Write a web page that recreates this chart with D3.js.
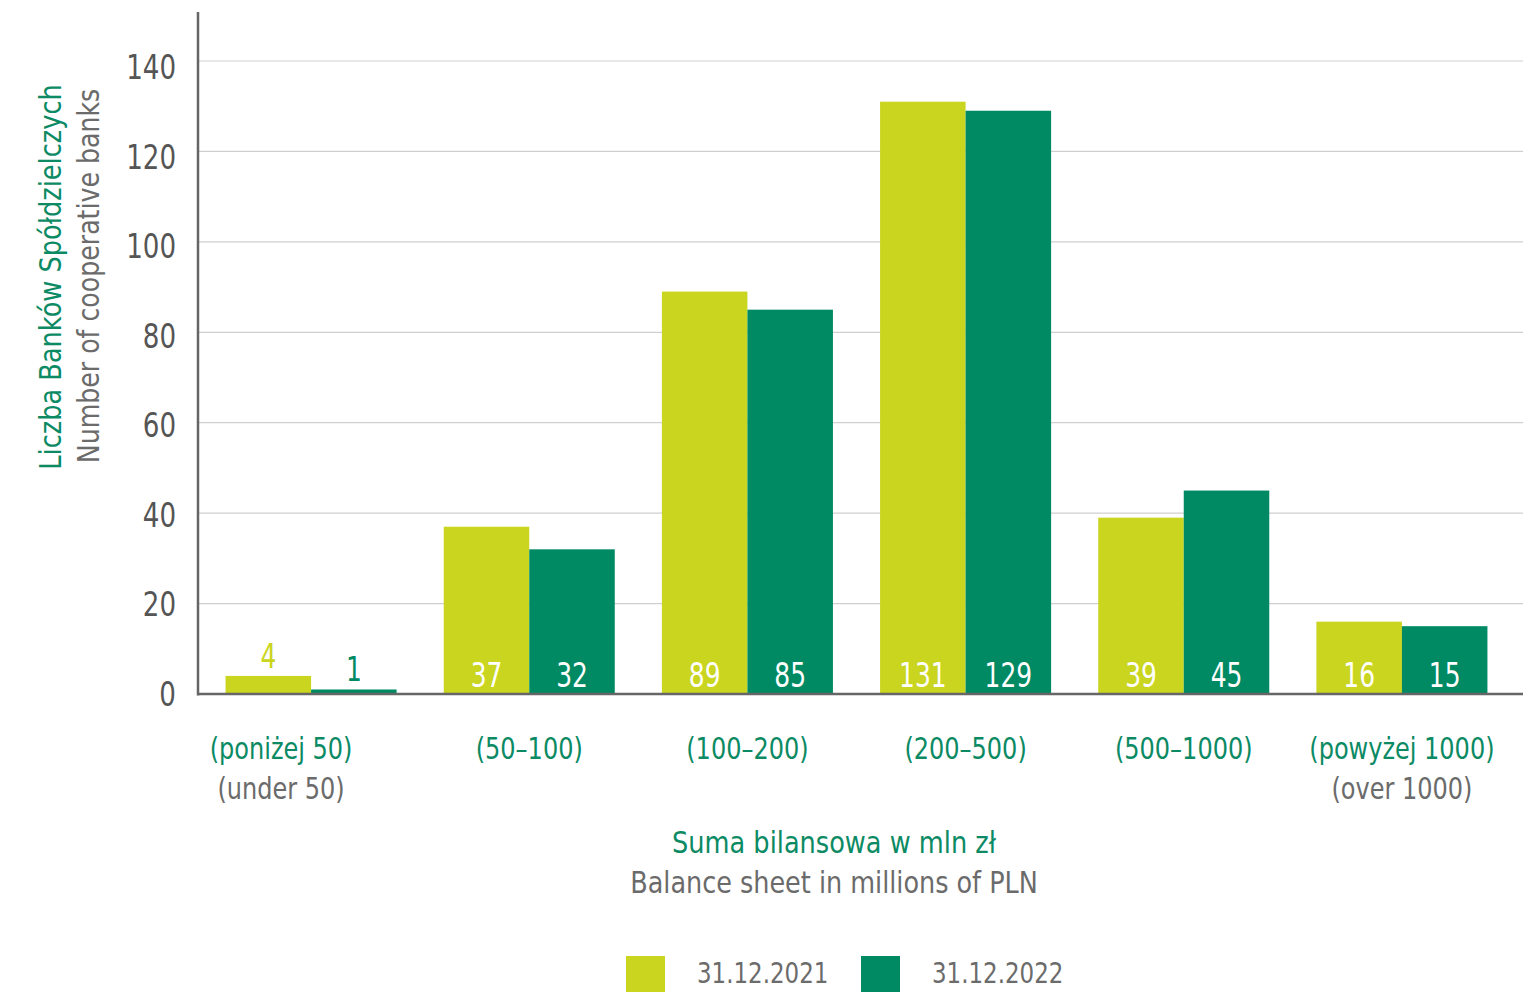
<!DOCTYPE html>
<html><head><meta charset="utf-8">
<script src="https://cdn.jsdelivr.net/npm/d3@7"></script>
<style>
html,body{margin:0;padding:0;background:#fff;}
svg{display:block;}
text{font-family:"DejaVu Sans Condensed","DejaVu Sans",sans-serif;}
</style></head>
<body>
<svg id="c" width="1540" height="992"></svg>
<script>
const categoriesPL = ["(poniżej 50)", "(50–100)", "(100–200)", "(200–500)", "(500–1000)", "(powyżej 1000)"];
const categoriesEN = ["(under 50)", "", "", "", "", "(over 1000)"];
const series = ["31.12.2021", "31.12.2022"];
const values2021 = [4, 37, 89, 131, 39, 16];
const values2022 = [1, 32, 85, 129, 45, 15];
const yTicks = [0, 20, 40, 60, 80, 100, 120, 140];

const colors = ["#cad520", "#008a64"];
const green = "#0b8a64", grey = "#6b6b6b";

const svg = d3.select("#c");
const x0 = 198, x1 = 1523, yZero = 694, yTop = 61;
const y = d3.scaleLinear().domain([0, 140]).range([yZero, yTop]);
const xb = d3.scaleBand().domain(categoriesPL.map((d, i) => i)).range([202, 1511]).paddingInner(0.216).paddingOuter(0.108);
const xs = d3.scaleBand().domain([0, 1]).range([0, xb.bandwidth()]);

// helper: horizontally condensed text
function txt(parent, x, yy, str, size, fill, anchor, sx, rot) {
  const tr = rot ? `translate(${x},${yy}) rotate(${rot}) scale(${sx},1)` : `translate(${x},${yy}) scale(${sx},1)`;
  return parent.append("text").attr("transform", tr).attr("text-anchor", anchor)
    .attr("font-size", size).attr("fill", fill).text(str);
}

// gridlines
svg.append("g").selectAll("line").data(yTicks.filter(d => d > 0)).join("line")
  .attr("x1", x0).attr("x2", x1).attr("y1", d => y(d)).attr("y2", d => y(d))
  .attr("stroke", "#cfcfcf").attr("stroke-width", 1.2);

// tick labels
const tg = svg.append("g");
yTicks.forEach(d => txt(tg, 176, y(d) + 12 + d / 140 * 6, d, 33, "#555", "end", 0.88));

// bars
const data = categoriesPL.map((c, i) => [values2021[i], values2022[i]]);
const g = svg.append("g");
data.forEach((vals, i) => {
  vals.forEach((v, s) => {
    const bx = xb(i) + xs(s);
    g.append("rect").attr("x", bx).attr("y", y(v)).attr("width", xs.bandwidth()).attr("height", yZero - y(v))
      .attr("fill", colors[s]);
    const inside = (yZero - y(v)) > 40;
    txt(g, bx + xs.bandwidth() / 2, inside ? 687 : y(v) - 8, v, 33,
      inside ? "#fff" : colors[s], "middle", 0.84);
  });
});

// axes lines
svg.append("line").attr("x1", x0).attr("x2", x0).attr("y1", 12).attr("y2", yZero + 1.5)
  .attr("stroke", "#666").attr("stroke-width", 2.5);
svg.append("line").attr("x1", x0).attr("x2", x1).attr("y1", yZero).attr("y2", yZero)
  .attr("stroke", "#666").attr("stroke-width", 2.5);

// category labels
const cg = svg.append("g");
categoriesPL.forEach((c, i) => {
  const cx = xb(i) + xb.bandwidth() / 2 + (i === 0 ? -30 : 0);
  txt(cg, cx, 759, c, 30, green, "middle", 0.89);
  if (categoriesEN[i]) txt(cg, cx, 799, categoriesEN[i], 30, grey, "middle", 0.89);
});

// x axis title
txt(svg, 834, 853, "Suma bilansowa w mln zł", 30, green, "middle", 0.95);
txt(svg, 834, 893, "Balance sheet in millions of PLN", 30, grey, "middle", 0.945);

// y axis titles
txt(svg, 61, 277, "Liczba Banków Spółdzielczych", 30, green, "middle", 0.95, -90);
txt(svg, 99, 276, "Number of cooperative banks", 30, grey, "middle", 0.935, -90);

// legend
const lg = svg.append("g");
const legX = [626, 861];
series.forEach((s, i) => {
  lg.append("rect").attr("x", legX[i]).attr("y", 956).attr("width", 39).attr("height", 40).attr("fill", colors[i]);
  txt(lg, legX[i] + 71, 983, s, 29, grey, "start", 0.88);
});
</script>
</body></html>
